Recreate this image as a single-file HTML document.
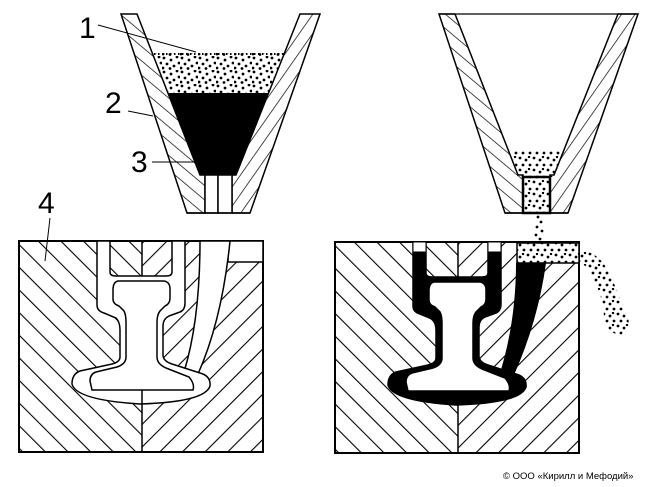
<!DOCTYPE html>
<html><head><meta charset="utf-8"><style>
html,body{margin:0;padding:0;background:#fff;}
svg{display:block;}
</style></head><body>
<svg width="652" height="487" viewBox="0 0 652 487" xmlns="http://www.w3.org/2000/svg">
<defs>
<pattern id="hb" width="16" height="16" patternUnits="userSpaceOnUse" patternTransform="rotate(-45)">
<line x1="0" y1="0" x2="0" y2="16" stroke="#000" stroke-width="2.2"/></pattern>
<pattern id="hf" width="16" height="16" patternUnits="userSpaceOnUse" patternTransform="rotate(45)">
<line x1="0" y1="0" x2="0" y2="16" stroke="#000" stroke-width="2.2"/></pattern>
<pattern id="cb" width="11" height="11" patternUnits="userSpaceOnUse" patternTransform="rotate(-50)">
<line x1="0" y1="0" x2="0" y2="11" stroke="#000" stroke-width="1.4"/></pattern>
<pattern id="cf" width="11" height="11" patternUnits="userSpaceOnUse" patternTransform="rotate(35)">
<line x1="0" y1="0" x2="0" y2="11" stroke="#000" stroke-width="1.4"/></pattern>
<pattern id="dots" width="18" height="14" patternUnits="userSpaceOnUse">
<circle cx="2" cy="2" r="1.4"/><circle cx="9" cy="4" r="1.4"/><circle cx="15" cy="1" r="1.4"/>
<circle cx="5" cy="8" r="1.4"/><circle cx="12" cy="10" r="1.4"/><circle cx="17" cy="7" r="1.4"/>
<circle cx="1" cy="12" r="1.4"/><circle cx="8" cy="12.5" r="1.4"/>
</pattern>
<pattern id="dots2" width="14" height="12" patternUnits="userSpaceOnUse">
<circle cx="2" cy="2" r="1.4"/><circle cx="8" cy="4" r="1.4"/><circle cx="5" cy="9" r="1.4"/><circle cx="12" cy="9" r="1.4"/><circle cx="11" cy="1" r="1.2"/>
</pattern>
</defs>

<!-- LEFT CRUCIBLE -->
<polygon points="121,14 137,14 200,175 205,175 205,213 187,213" fill="url(#cb)" stroke="#000" stroke-width="1.5"/>
<polygon points="300,14 320,14 250,213 232,213 232,175 236,175" fill="url(#cf)" stroke="#000" stroke-width="1.5"/>
<polygon points="154,53 284,53 268,93 168,93" fill="url(#dots)"/>
<line x1="154" y1="54" x2="284" y2="54" stroke="#000" stroke-width="2" stroke-dasharray="1.5,2.5"/>
<polygon points="168,93 268,93 236,175 200,175" fill="#000"/>
<rect x="205" y="175" width="13" height="38" fill="#fff" stroke="#000" stroke-width="1.5"/>
<rect x="218" y="175" width="14" height="38" fill="#fff" stroke="#000" stroke-width="1.5"/>
<line x1="187" y1="213" x2="250" y2="213" stroke="#000" stroke-width="1.5"/>

<!-- RIGHT CRUCIBLE -->
<line x1="439" y1="14" x2="638" y2="14" stroke="#000" stroke-width="1.2"/>
<polygon points="439,14 455,14 518,175 523,175 523,213 505,213" fill="url(#cb)" stroke="#000" stroke-width="1.5"/>
<polygon points="618,14 638,14 568,213 550,213 550,175 554,175" fill="url(#cf)" stroke="#000" stroke-width="1.5"/>
<polygon points="510,150 565,150 554,177 519,177" fill="url(#dots2)"/>
<rect x="523" y="177" width="27" height="36" fill="url(#dots2)" stroke="#000" stroke-width="2.5"/>
<line x1="505" y1="213" x2="568" y2="213" stroke="#000" stroke-width="1.5"/>
<g fill="#000">
<circle cx="538" cy="217" r="1.4"/><circle cx="541" cy="222" r="1.4"/><circle cx="537" cy="227" r="1.4"/><circle cx="542" cy="231" r="1.4"/><circle cx="536" cy="235" r="1.4"/><circle cx="540" cy="239" r="1.4"/><circle cx="537" cy="243" r="1.4"/><circle cx="542" cy="245" r="1.4"/>
</g>
<path d="M580,250 Q600,252 610,275 Q622,300 630,325 L620,336 Q605,330 604,320 Q604,300 596,285 Q590,268 580,262 Z" fill="url(#dots2)"/>

<!-- LEFT MOLD -->
<rect x="19" y="241" width="123" height="211" fill="url(#hb)"/>
<rect x="142" y="241" width="121" height="211" fill="url(#hf)"/>
<rect x="19" y="241" width="244" height="211" fill="none" stroke="#000" stroke-width="2"/>
<line x1="142" y1="241" x2="142" y2="452" stroke="#000" stroke-width="1.5"/>
<rect x="228" y="241" width="35" height="21" fill="#fff" stroke="#000" stroke-width="1.5"/>
<path d="M200,241 L230,241 Q222,320 198,374 L184,372 Q200,320 200,241 Z" fill="#fff" stroke="#000" stroke-width="1.5"/>
<path d="M97,241 L97,305 Q97,311 104,313 L116,318 Q120,322 120,330 L120,357 Q120,362 112,364 L80,371 Q72,374 72,384 Q76,400 140,404 Q205,402 210,386 Q211,376 200,373 L172,364 Q163,361 163,355 L163,326 Q163,319 169,316 L180,312 Q185,310 185,303 L185,241 L172,241 L172,272 Q172,276 166,276 L116,276 Q110,276 110,272 L110,241 Z" fill="#fff" stroke="#000" stroke-width="1.5"/>
<path d="M118,281 Q113,282 113,290 L113,299 Q113,304 119,306 L124,311 Q126,315 126,322 L126,357 Q126,364 117,367 L96,372 Q90,374 90,381 L92,390 L193,390 Q195,384 189,377 L166,368 Q157,364 157,357 L157,322 Q157,315 160,311 L165,306 Q170,304 170,298 L170,289 Q170,282 164,281 Z" fill="#fff" stroke="#000" stroke-width="1.5"/>
<line x1="142" y1="390" x2="142" y2="404" stroke="#000" stroke-width="1.5"/>

<!-- RIGHT MOLD -->
<g transform="translate(316,1)">
<rect x="19" y="241" width="123" height="211" fill="url(#hb)"/>
<rect x="142" y="241" width="121" height="211" fill="url(#hf)"/>
<rect x="19" y="241" width="244" height="211" fill="none" stroke="#000" stroke-width="2"/>
<line x1="142" y1="241" x2="142" y2="452" stroke="#000" stroke-width="1.5"/>
<path d="M200,262 L230,262 Q222,320 198,374 L184,372 Q200,320 200,262 Z" fill="#000"/>
<path d="M97,241 L97,305 Q97,311 104,313 L116,318 Q120,322 120,330 L120,357 Q120,362 112,364 L80,371 Q72,374 72,384 Q76,400 140,404 Q205,402 210,386 Q211,376 200,373 L172,364 Q163,361 163,355 L163,326 Q163,319 169,316 L180,312 Q185,310 185,303 L185,241 L172,241 L172,272 Q172,276 166,276 L116,276 Q110,276 110,272 L110,241 Z" fill="#000" stroke="#000" stroke-width="1.5"/>
<rect x="97" y="241" width="13" height="10" fill="#fff" stroke="#000" stroke-width="1"/>
<rect x="172" y="241" width="13" height="10" fill="#fff" stroke="#000" stroke-width="1"/>
<path d="M118,281 Q113,282 113,290 L113,299 Q113,304 119,306 L124,311 Q126,315 126,322 L126,357 Q126,364 117,367 L96,372 Q90,374 90,381 L92,390 L193,390 Q195,384 189,377 L166,368 Q157,364 157,357 L157,322 Q157,315 160,311 L165,306 Q170,304 170,298 L170,289 Q170,282 164,281 Z" fill="#fff" stroke="#000" stroke-width="1.5"/>
<rect x="201" y="242" width="62" height="20" fill="#fff"/>
<rect x="201" y="242" width="62" height="20" fill="url(#dots2)" stroke="#000" stroke-width="1.5"/>
</g>

<!-- LABELS -->
<g font-family="Liberation Sans, sans-serif" font-size="30" fill="#000">
<text x="79" y="38">1</text>
<text x="105" y="113">2</text>
<text x="131" y="172">3</text>
<text x="38" y="213">4</text>
</g>
<g stroke="#000" stroke-width="1">
<line x1="98" y1="25" x2="196" y2="52"/>
<line x1="128" y1="111" x2="153" y2="116"/>
<line x1="152" y1="162" x2="196" y2="162"/>
<line x1="50" y1="218" x2="45" y2="261"/>
</g>
<text x="503" y="479" font-family="Liberation Sans, sans-serif" font-size="9.5" fill="#000">© ООО «Кирилл и Мефодий»</text>
</svg>
</body></html>
